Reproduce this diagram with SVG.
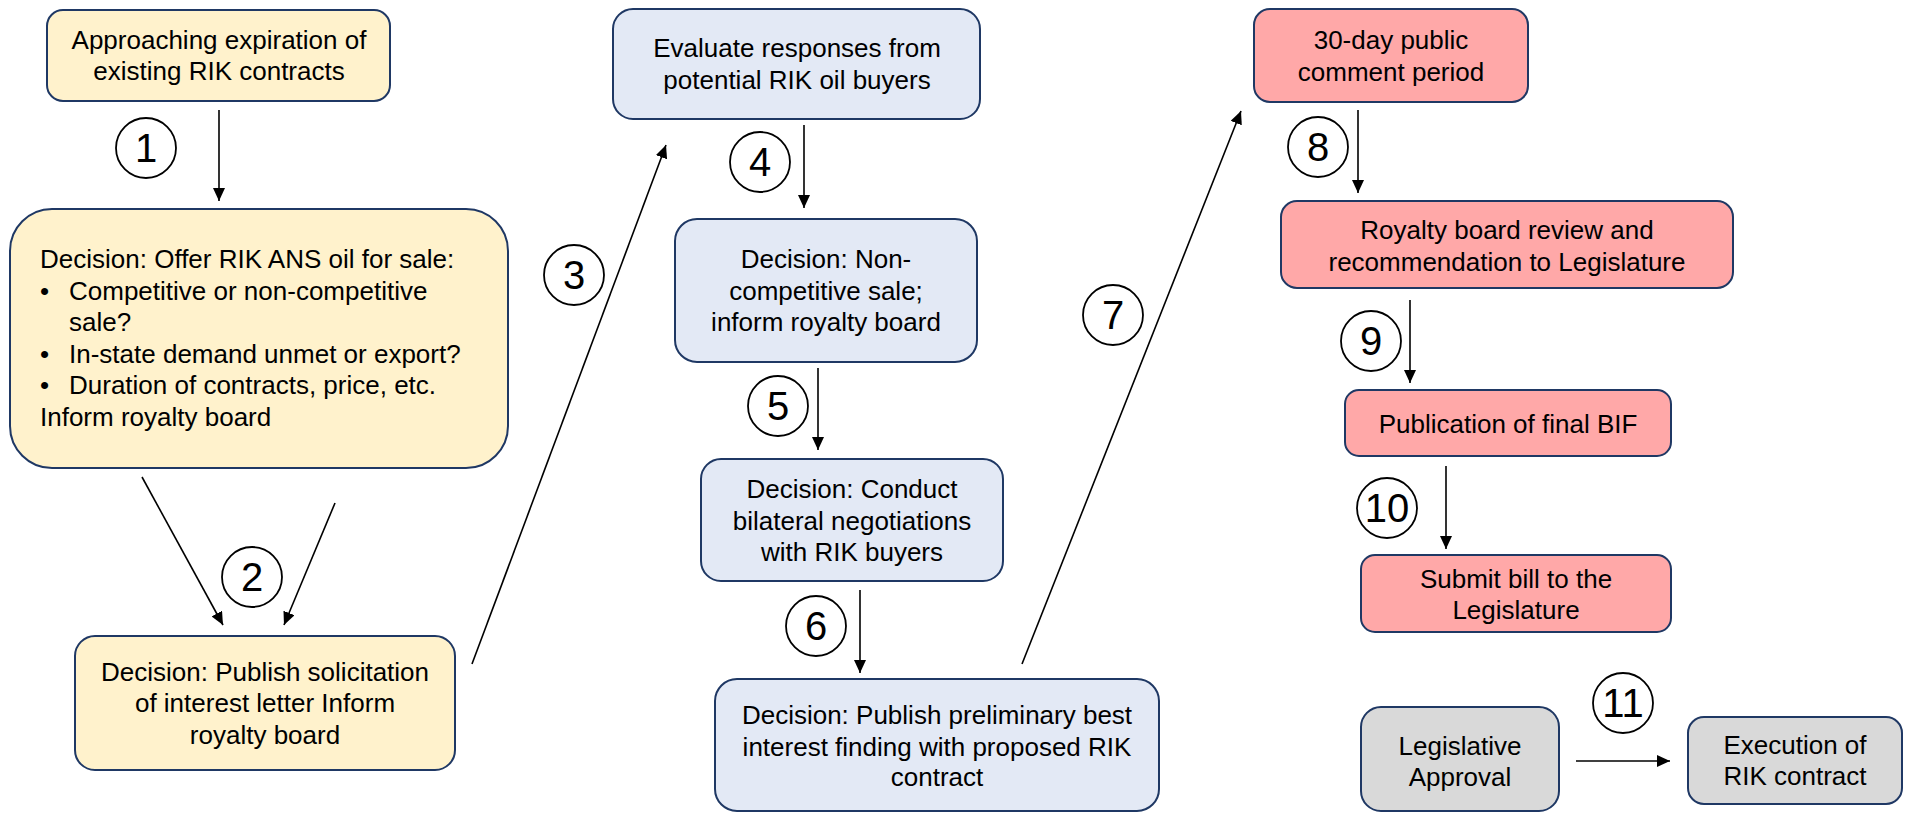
<svg xmlns="http://www.w3.org/2000/svg" width="1906" height="813" viewBox="0 0 1906 813">
<defs>
<style>
.t{font-family:"Liberation Sans",Arial,sans-serif;font-size:26px;fill:#000}
.c{text-anchor:middle}
.n{font-family:"Liberation Sans",Arial,sans-serif;font-size:40px;fill:#000;text-anchor:middle}
.box{stroke:#1F3864;stroke-width:2}
.y{fill:#FFF2CC}
.b{fill:#E3E9F5}
.r{fill:#FFA8A8}
.g{fill:#D9D9D9}
.num{fill:#fff;stroke:#000;stroke-width:1.8}
.ln{stroke:#000;stroke-width:1.6;fill:none;marker-end:url(#ah)}
</style>
<marker id="ah" markerUnits="userSpaceOnUse" markerWidth="13" markerHeight="12" refX="13" refY="6" orient="auto">
<path d="M0,0 L13,6 L0,12 z" fill="#000"/>
</marker>
</defs>
<rect width="1906" height="813" fill="#fff"/>
<g id="connectors">
<line class="ln" x1="219" y1="110" x2="219" y2="201"/>
<line class="ln" x1="142" y1="477" x2="223" y2="625"/>
<line class="ln" x1="335" y1="503" x2="284" y2="625"/>
<line class="ln" x1="472" y1="664" x2="666" y2="145"/>
<line class="ln" x1="804" y1="125" x2="804" y2="208"/>
<line class="ln" x1="818" y1="368" x2="818" y2="450"/>
<line class="ln" x1="860" y1="590" x2="860" y2="673"/>
<line class="ln" x1="1022" y1="664" x2="1241" y2="111"/>
<line class="ln" x1="1358" y1="110" x2="1358" y2="193"/>
<line class="ln" x1="1410" y1="300" x2="1410" y2="383"/>
<line class="ln" x1="1446" y1="466" x2="1446" y2="549"/>
<line class="ln" x1="1576" y1="761" x2="1670" y2="761"/>
</g>
<g id="step-labels">
<g id="s1"><circle class="num" cx="146" cy="148" r="30"/><text class="n" x="146" y="162">1</text></g>
<g id="s2"><circle class="num" cx="252" cy="577" r="30"/><text class="n" x="252" y="591">2</text></g>
<g id="s3"><circle class="num" cx="574" cy="275" r="30"/><text class="n" x="574" y="289">3</text></g>
<g id="s4"><circle class="num" cx="760" cy="162" r="30"/><text class="n" x="760" y="176">4</text></g>
<g id="s5"><circle class="num" cx="778" cy="406" r="30"/><text class="n" x="778" y="420">5</text></g>
<g id="s6"><circle class="num" cx="816" cy="626" r="30"/><text class="n" x="816" y="640">6</text></g>
<g id="s7"><circle class="num" cx="1113" cy="315" r="30"/><text class="n" x="1113" y="329">7</text></g>
<g id="s8"><circle class="num" cx="1318" cy="147" r="30"/><text class="n" x="1318" y="161">8</text></g>
<g id="s9"><circle class="num" cx="1371" cy="341" r="30"/><text class="n" x="1371" y="355">9</text></g>
<g id="s10"><circle class="num" cx="1387" cy="508" r="30"/><text class="n" x="1387" y="522">10</text></g>
<g id="s11"><circle class="num" cx="1623" cy="703" r="30"/><text class="n" x="1623" y="717">11</text></g>
</g>
<g id="n1"><rect class="box y" x="47" y="10" width="343" height="91" rx="16"/>
<text class="t c" x="219" y="49">Approaching expiration of</text>
<text class="t c" x="219" y="80">existing RIK contracts</text></g>
<g id="n2"><rect class="box y" x="10" y="209" width="498" height="259" rx="42"/>
<text class="t" x="40" y="268">Decision: Offer RIK ANS oil for sale:</text>
<text class="t" x="40" y="300">•</text><text class="t" x="69" y="300">Competitive or non-competitive</text>
<text class="t" x="69" y="331">sale?</text>
<text class="t" x="40" y="363">•</text><text class="t" x="69" y="363">In-state demand unmet or export?</text>
<text class="t" x="40" y="394">•</text><text class="t" x="69" y="394">Duration of contracts, price, etc.</text>
<text class="t" x="40" y="426">Inform royalty board</text></g>
<g id="n3"><rect class="box y" x="75" y="636" width="380" height="134" rx="20"/>
<text class="t c" x="265" y="681">Decision: Publish solicitation</text>
<text class="t c" x="265" y="712">of interest letter Inform</text>
<text class="t c" x="265" y="744">royalty board</text></g>
<g id="n4"><rect class="box b" x="613" y="9" width="367" height="110" rx="20"/>
<text class="t c" x="797" y="57">Evaluate responses from</text>
<text class="t c" x="797" y="89">potential RIK oil buyers</text></g>
<g id="n5"><rect class="box b" x="675" y="219" width="302" height="143" rx="22"/>
<text class="t c" x="826" y="268">Decision: Non-</text>
<text class="t c" x="826" y="300">competitive sale;</text>
<text class="t c" x="826" y="331">inform royalty board</text></g>
<g id="n6"><rect class="box b" x="701" y="459" width="302" height="122" rx="20"/>
<text class="t c" x="852" y="498">Decision: Conduct</text>
<text class="t c" x="852" y="530">bilateral negotiations</text>
<text class="t c" x="852" y="561">with RIK buyers</text></g>
<g id="n7"><rect class="box b" x="715" y="679" width="444" height="132" rx="22"/>
<text class="t c" x="937" y="724">Decision: Publish preliminary best</text>
<text class="t c" x="937" y="756">interest finding with proposed RIK</text>
<text class="t c" x="937" y="786">contract</text></g>
<g id="n8"><rect class="box r" x="1254" y="9" width="274" height="93" rx="16"/>
<text class="t c" x="1391" y="49">30-day public</text>
<text class="t c" x="1391" y="81">comment period</text></g>
<g id="n9"><rect class="box r" x="1281" y="201" width="452" height="87" rx="16"/>
<text class="t c" x="1507" y="239">Royalty board review and</text>
<text class="t c" x="1507" y="271">recommendation to Legislature</text></g>
<g id="n10"><rect class="box r" x="1345" y="390" width="326" height="66" rx="14"/>
<text class="t c" x="1508" y="433">Publication of final BIF</text></g>
<g id="n11"><rect class="box r" x="1361" y="555" width="310" height="77" rx="14"/>
<text class="t c" x="1516" y="588">Submit bill to the</text>
<text class="t c" x="1516" y="619">Legislature</text></g>
<g id="n12"><rect class="box g" x="1361" y="707" width="198" height="104" rx="20"/>
<text class="t c" x="1460" y="755">Legislative</text>
<text class="t c" x="1460" y="786">Approval</text></g>
<g id="n13"><rect class="box g" x="1688" y="717" width="214" height="87" rx="16"/>
<text class="t c" x="1795" y="754">Execution of</text>
<text class="t c" x="1795" y="785">RIK contract</text></g>
</svg>
